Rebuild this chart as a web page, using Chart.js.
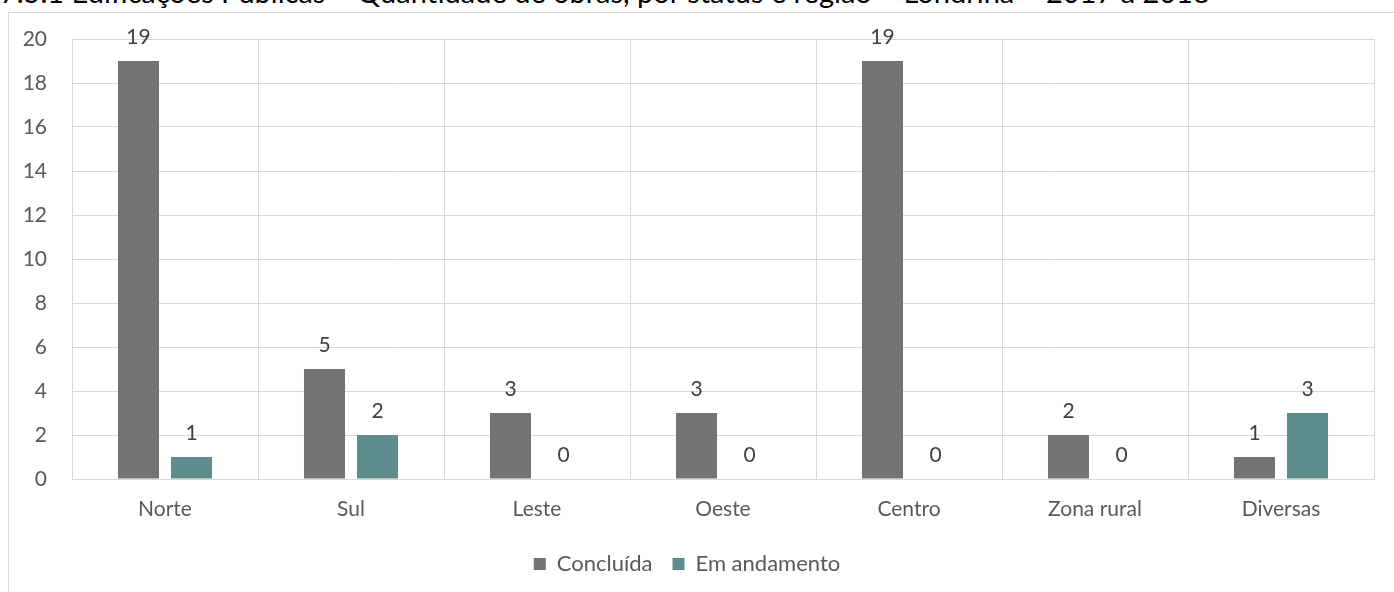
<!DOCTYPE html>
<html><head><meta charset="UTF-8">
<title>Edificações Públicas</title>
<script src="https://cdn.jsdelivr.net/npm/chart.js"></script>
<style>
  body{margin:0;background:#fff;overflow:hidden;width:1394px;height:592px;position:relative}
  #title{position:absolute;left:0;top:-26px;font-family:Lato,sans-serif;font-size:29px;color:#000;white-space:nowrap}
  #frame{position:absolute;left:8px;top:12px;width:1400px;height:600px;border:1px solid #d9d9d9;box-sizing:border-box}
  #wrap{position:absolute;left:0;top:0;width:1394px;height:592px}
</style>
</head><body>
<div id="title">7.5.1 Edificações Públicas – Quantidade de obras, por status e região – Londrina – 2017 a 2018</div>
<div id="frame"></div>
<div id="wrap"><canvas id="chart"></canvas></div>
<script>
const regioes = ["Norte", "Sul", "Leste", "Oeste", "Centro", "Zona rural", "Diversas"];
const concluida = [19, 5, 3, 3, 19, 2, 1];
const emAndamento = [1, 2, 0, 0, 0, 0, 3];
const serieNomes = ["Concluída", "Em andamento"];

const labelPlugin = {
  id: "valores",
  afterDatasetsDraw(chart) {
    const ctx = chart.ctx;
    ctx.save();
    ctx.font = "21px Lato";
    ctx.fillStyle = "#404040";
    ctx.textAlign = "center";
    ctx.textBaseline = "bottom";
    chart.data.datasets.forEach((ds, i) => {
      chart.getDatasetMeta(i).data.forEach((bar, j) => {
        ctx.fillText(ds.data[j], bar.x, bar.y - 13);
      });
    });
    ctx.restore();
  }
};

new Chart(document.getElementById("chart"), {
  type: "bar",
  data: {
    labels: regioes,
    datasets: [
      { label: serieNomes[0], data: concluida, backgroundColor: "#737373" },
      { label: serieNomes[1], data: emAndamento, backgroundColor: "#5e8b8b" }
    ]
  },
  options: {
    responsive: true,
    maintainAspectRatio: false,
    animation: false,
    datasets: { bar: { categoryPercentage: 0.57, barPercentage: 0.774 } },
    layout: { padding: { left: 0, right: 20, top: 39, bottom: 7 } },
    plugins: {
      tooltip: { enabled: false },
      legend: {
        position: "bottom",
        labels: { boxWidth: 12, boxHeight: 12, padding: 20, color: "#595959", font: { family: "Lato", size: 22 } }
      }
    },
    scales: {
      x: {
        grid: { color: "#d9d9d9", drawTicks: false },
        border: { color: "#d9d9d9" },
        ticks: { color: "#595959", padding: 18, font: { family: "Lato", size: 21 } },
        afterFit(s) { s.height = 54; }
      },
      y: {
        min: 0, max: 20,
        grid: { color: "#d9d9d9", drawTicks: false },
        border: { display: false },
        ticks: { stepSize: 2, color: "#595959", padding: 25, font: { family: "Lato", size: 21 } },
        afterFit(s) { s.width = 72; }
      }
    }
  },
  plugins: [labelPlugin]
});
</script>
</body></html>
